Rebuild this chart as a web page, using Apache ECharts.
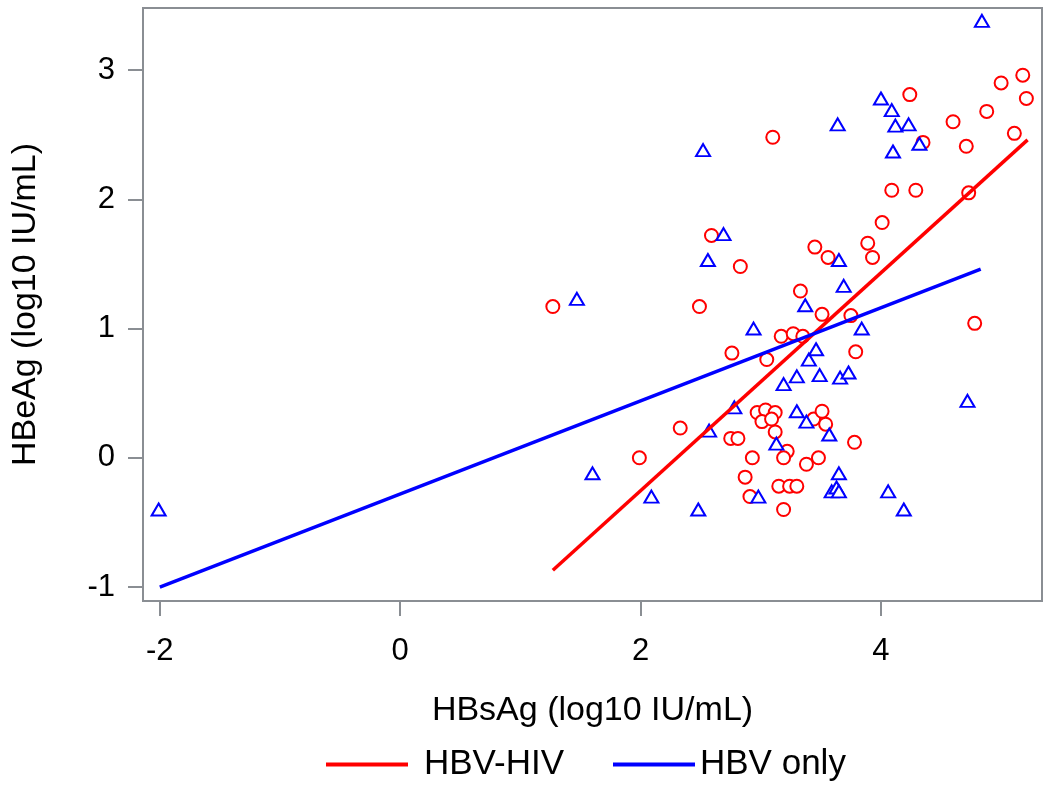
<!DOCTYPE html>
<html>
<head>
<meta charset="utf-8">
<script src="https://cdn.jsdelivr.net/npm/echarts@6/dist/echarts.min.js"></script>
<style>html,body{margin:0;padding:0;background:#fff}#c{width:1050px;height:786px}</style>
</head>
<body>
<div id="c"></div>
<script>
// HBV-HIV (red circles): [HBsAg, HBeAg]
const hbvHivPoints = [
  [1.27,1.17],[1.99,0.00],[2.33,0.23],[2.49,1.17],[2.59,1.72],[2.83,1.48],[3.10,2.48],
  [2.75,0.15],[2.81,0.15],[2.93,0.00],[2.87,-0.15],[2.91,-0.30],[2.76,0.81],[3.05,0.76],
  [2.97,0.35],[3.04,0.37],[3.12,0.35],[3.01,0.28],[3.09,0.30],[3.12,0.20],[3.44,0.30],
  [3.51,0.36],[3.54,0.26],[3.22,0.05],[3.19,0.00],[3.38,-0.05],[3.48,0.00],[3.78,0.12],
  [3.15,-0.22],[3.24,-0.22],[3.30,-0.22],[3.19,-0.40],[3.17,0.94],[3.27,0.96],[3.35,0.94],
  [3.33,1.29],[3.51,1.11],[3.75,1.10],[3.79,0.82],[3.45,1.63],[3.56,1.55],[3.93,1.55],
  [3.89,1.66],[4.01,1.82],[4.09,2.07],[4.29,2.07],[4.73,2.05],[4.78,1.04],[4.24,2.81],
  [4.35,2.44],[4.60,2.60],[4.71,2.41],[4.88,2.68],[5.00,2.90],[5.11,2.51],[5.18,2.96],
  [5.21,2.78]
];
// HBV only (blue triangles)
const hbvOnlyPoints = [
  [-2.01,-0.40],[1.47,1.23],[1.60,-0.12],[2.09,-0.30],[2.48,-0.40],[2.52,2.38],[2.56,1.53],
  [2.57,0.21],[2.69,1.73],[2.78,0.39],[2.94,1.00],[2.98,-0.30],[3.13,0.11],[3.19,0.57],
  [3.30,0.63],[3.30,0.36],[3.37,1.18],[3.38,0.28],[3.40,0.76],[3.46,0.84],[3.49,0.64],
  [3.57,0.18],[3.59,-0.26],[3.63,-0.23],[3.65,-0.26],[3.65,-0.12],[3.64,2.58],[3.65,1.53],
  [3.66,0.62],[3.69,1.33],[3.73,0.66],[3.84,1.00],[4.00,2.78],[4.06,-0.26],[4.09,2.69],
  [4.10,2.37],[4.12,2.57],[4.19,-0.40],[4.23,2.58],[4.32,2.43],[4.72,0.44],[4.84,3.38]
];
// Fitted regression lines (endpoints)
const hbvHivFit = [[1.27,-0.87],[5.22,2.46]];
const hbvOnlyFit = [[-2.00,-1.00],[4.83,1.46]];
// Tick values
const xTicks = [-2,0,2,4];
const yTicks = [-1,0,1,2,3];
const seriesNames = ['HBV-HIV','HBV only'];
const colors = ['#FF0000','#0000FF'];

const FONT = '"Liberation Sans", Arial, sans-serif';
const AX = '#8a8e93';

const chart = echarts.init(document.getElementById('c'), null, {renderer:'canvas'});
chart.setOption({
  animation:false,
  backgroundColor:'#fff',
  grid:{left:143, right:8, top:8, bottom:185, show:true, borderColor:AX, borderWidth:2, backgroundColor:'transparent'},
  xAxis:{
    type:'value', min:-2.14, max:5.34,
    name:'HBsAg (log10 IU/mL)', nameLocation:'middle', nameGap:93,
    nameTextStyle:{fontFamily:FONT, fontSize:34, color:'#000'},
    splitLine:{show:false},
    axisLine:{show:true, onZero:false, lineStyle:{color:AX, width:2}},
    axisTick:{show:true, customValues:xTicks, length:15, lineStyle:{color:AX, width:2}},
    axisLabel:{customValues:xTicks, fontFamily:FONT, fontSize:31, color:'#000', margin:35}
  },
  yAxis:{
    type:'value', min:-1.108, max:3.48,
    name:'HBeAg (log10 IU/mL)', nameLocation:'middle', nameGap:100, nameRotate:90,
    nameTextStyle:{fontFamily:FONT, fontSize:34, color:'#000'},
    splitLine:{show:false},
    axisLine:{show:true, onZero:false, lineStyle:{color:AX, width:2}},
    axisTick:{show:true, customValues:yTicks, length:15, lineStyle:{color:AX, width:2}},
    axisLabel:{customValues:yTicks, fontFamily:FONT, fontSize:31, color:'#000', margin:28}
  },
  legend:[
    {data:[seriesNames[0]], left:326, top:747, padding:0, icon:'rect', itemWidth:82, itemHeight:4,
     textStyle:{fontFamily:FONT, fontSize:35, color:'#000', padding:[0,0,0,11]}},
    {data:[seriesNames[1]], left:613, top:747, padding:0, icon:'rect', itemWidth:82, itemHeight:4,
     textStyle:{fontFamily:FONT, fontSize:35, color:'#000'}}
  ],
  series:[
    {name:'pts1', type:'scatter', data:hbvHivPoints, symbol:'circle', symbolSize:13,
     itemStyle:{color:'#fff', opacity:1, borderColor:colors[0], borderWidth:2}, z:3},
    {name:'pts2', type:'scatter', data:hbvOnlyPoints, symbol:'triangle', symbolSize:[14,12],
     itemStyle:{color:'#fff', opacity:1, borderColor:colors[1], borderWidth:2}, z:3},
    {name:seriesNames[0], type:'line', data:hbvHivFit, showSymbol:false, symbol:'none',
     lineStyle:{color:colors[0], width:3.5}, itemStyle:{color:colors[0]}, z:4},
    {name:seriesNames[1], type:'line', data:hbvOnlyFit, showSymbol:false, symbol:'none',
     lineStyle:{color:colors[1], width:3.5}, itemStyle:{color:colors[1]}, z:4}
  ]
});
</script>
</body>
</html>
